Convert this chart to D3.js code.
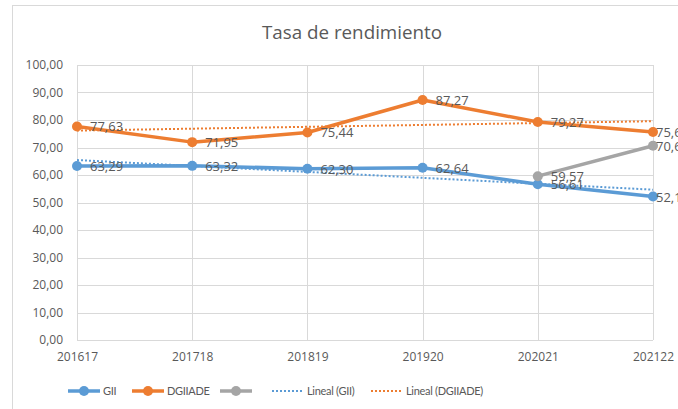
<!DOCTYPE html>
<html>
<head>
<meta charset="utf-8">
<script src="https://cdn.jsdelivr.net/npm/d3@7"></script>
<style>
  body { margin: 0; background: #fff; }
  text { font-family: "Open Sans", Lato, sans-serif; fill: #595959; }
</style>
</head>
<body>
<script>
// data
var cursos = ["201617", "201718", "201819", "201920", "202021", "202122"];
var gii = [63.29, 63.32, 62.30, 62.64, 56.61, 52.15];
var dgiiade = [77.63, 71.95, 75.44, 87.27, 79.27, 75.63];
var tercera = [null, null, null, null, 59.57, 70.64];
var yTicks = [0, 10, 20, 30, 40, 50, 60, 70, 80, 90, 100];

var W = 678, H = 409;
var margin = { top: 65, right: 25, bottom: 69, left: 77 },
    width = W - margin.left - margin.right,
    height = H - margin.top - margin.bottom;

var blue = "#5B9BD5", orange = "#ED7D31", grey = "#A5A5A5";
var fmt = function(v) { return d3.format(".2f")(v).replace(".", ","); };

var svg = d3.select("body").append("svg")
    .attr("width", W)
    .attr("height", H);

// chart border (cut at right/bottom in the original)
svg.append("rect")
    .attr("x", 12.5).attr("y", 5.5)
    .attr("width", W + 10).attr("height", H + 10)
    .attr("fill", "none").attr("stroke", "#D9D9D9");

svg.append("text")
    .attr("x", 352).attr("y", 39)
    .attr("text-anchor", "middle")
    .style("font-size", "18.8px")
    .text("Tasa de rendimiento");

var g = svg.append("g")
    .attr("transform", "translate(" + margin.left + "," + margin.top + ")");

var x = d3.scalePoint().domain(cursos).range([0, width]);
var y = d3.scaleLinear().domain([0, 100]).range([height, 0]);

// gridlines
g.append("g").selectAll("line")
    .data(yTicks)
    .enter().append("line")
    .attr("x1", 0).attr("x2", width)
    .attr("y1", function(d) { return Math.round(y(d)) + 0.5; })
    .attr("y2", function(d) { return Math.round(y(d)) + 0.5; })
    .attr("stroke", "#D9D9D9");

g.append("g").selectAll("line")
    .data(cursos)
    .enter().append("line")
    .attr("x1", function(d) { return Math.round(x(d)) + 0.5; })
    .attr("x2", function(d) { return Math.round(x(d)) + 0.5; })
    .attr("y1", 0).attr("y2", height)
    .attr("stroke", "#D9D9D9");

// axes labels
var yAxis = g.append("g")
    .call(d3.axisLeft(y).tickValues(yTicks).tickSize(0).tickPadding(14).tickFormat(fmt));
yAxis.select(".domain").remove();
yAxis.selectAll("text").style("font-size", "12px").attr("fill", "#595959");

var xAxis = g.append("g")
    .attr("transform", "translate(0," + height + ")")
    .call(d3.axisBottom(x).tickSize(0).tickPadding(12));
xAxis.select(".domain").remove();
xAxis.selectAll("text").style("font-size", "12px").attr("fill", "#595959");

// trend lines (least squares on each series)
function trend(vals) {
  var n = vals.length, xs = d3.range(n);
  var mx = d3.mean(xs), my = d3.mean(vals);
  var b = d3.sum(xs, function(i) { return (i - mx) * (vals[i] - my); }) /
          d3.sum(xs, function(i) { return (i - mx) * (i - mx); });
  return [my - b * mx, my + b * (n - 1 - mx)];
}

function drawTrend(vals, color) {
  var t = trend(vals);
  g.append("line")
    .attr("x1", x(cursos[0])).attr("y1", y(t[0]))
    .attr("x2", x(cursos[cursos.length - 1])).attr("y2", y(t[1]))
    .attr("stroke", color).attr("stroke-width", 2)
    .attr("stroke-dasharray", "2,2");
}
drawTrend(gii, blue);
drawTrend(dgiiade, orange);

var line = d3.line()
    .x(function(d) { return x(d.c); })
    .y(function(d) { return y(d.v); });

function drawSeries(vals, color) {
  var pts = cursos.map(function(c, i) { return { c: c, v: vals[i] }; })
      .filter(function(d) { return d.v != null; });
  g.append("path")
    .datum(pts)
    .attr("d", line)
    .attr("fill", "none")
    .attr("stroke", color)
    .attr("stroke-width", 3.5)
    .attr("stroke-linejoin", "round");
  g.selectAll(null)
    .data(pts)
    .enter().append("circle")
    .attr("cx", function(d) { return x(d.c); })
    .attr("cy", function(d) { return y(d.v); })
    .attr("r", 5)
    .attr("fill", color);
  return pts;
}

var series = [
  drawSeries(gii, blue),
  drawSeries(dgiiade, orange),
  drawSeries(tercera, grey)
];

// data labels (last column pushed in, as in the original)
var last = cursos[cursos.length - 1];
series.forEach(function(pts) {
  g.selectAll(null)
    .data(pts)
    .enter().append("text")
    .attr("x", function(d) { return x(d.c) + (d.c === last ? 3 : 13); })
    .attr("y", function(d) { return y(d.v); })
    .attr("dy", "0.38em")
    .style("font-size", "13px")
    .text(function(d) { return fmt(d.v); });
});

// legend
var legend = [
  { label: "GII", color: blue, x: 68, dotted: false },
  { label: "DGIIADE", color: orange, x: 132, dotted: false },
  { label: "", color: grey, x: 220, dotted: false },
  { label: "Lineal (GII)", color: blue, x: 272, dotted: true },
  { label: "Lineal (DGIIADE)", color: orange, x: 371, dotted: true }
];
var lg = svg.append("g").attr("transform", "translate(0,391)");
legend.forEach(function(d) {
  lg.append("line")
    .attr("x1", d.x).attr("x2", d.x + 32)
    .attr("stroke", d.color)
    .attr("stroke-width", d.dotted ? 2 : 3.5)
    .attr("stroke-dasharray", d.dotted ? "2,2" : null);
  if (!d.dotted) {
    lg.append("circle").attr("cx", d.x + 16).attr("r", 5).attr("fill", d.color);
  }
  lg.append("text")
    .attr("x", d.x + 35).attr("dy", "0.35em")
    .style("font-family", "Lato, sans-serif")
    .style("font-size", "11px")
    .style("letter-spacing", "-0.3px")
    .text(d.label);
});
</script>
</body>
</html>
